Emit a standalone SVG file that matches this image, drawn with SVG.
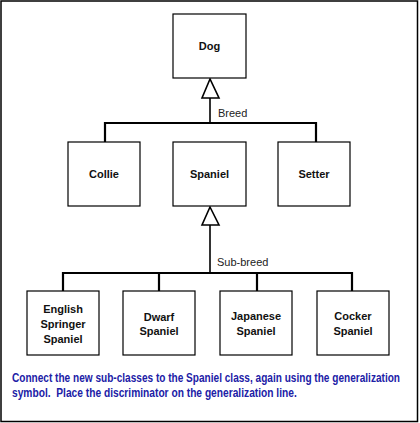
<svg xmlns="http://www.w3.org/2000/svg" width="420" height="423" viewBox="0 0 420 423">
<style>
.box{fill:#fff;stroke:#000;stroke-width:1.2}
.lbl{font-family:"Liberation Sans",Arial,sans-serif;font-weight:bold;font-size:11px;fill:#111;text-anchor:middle}
.disc{font-family:"Liberation Sans",Arial,sans-serif;font-size:11px;fill:#222}
.conn{fill:none;stroke:#000;stroke-width:2.2}
.stem{fill:none;stroke:#000;stroke-width:1.6}
.tri{fill:#fff;stroke:#000;stroke-width:1.6;stroke-linejoin:miter}
.cap{font-family:"Liberation Sans",Arial,sans-serif;font-weight:bold;font-size:12px;fill:#2020a6;white-space:pre}
</style>
<rect x="1" y="1" width="416.5" height="420.5" fill="#fff" stroke="#000" stroke-width="1.5"/>
<g id="connectors">
<path class="stem" d="M210 98 V123"/>
<path class="conn" d="M105 142 V123 H316 V142"/>
<path class="stem" d="M210 225 V273"/>
<path class="conn" d="M63 291 V273 H352 V291 M159 273 V291 M257 273 V291"/>
<polygon class="tri" points="210,79 202,98 219,98"/>
<polygon class="tri" points="210,207 202,225 219,225"/>
<text class="disc" x="218" y="117">Breed</text>
<text class="disc" x="217" y="266">Sub-breed</text>
</g>
<g id="dog"><rect class="box" x="173" y="14" width="73" height="64"/><text class="lbl" x="209.5" y="50">Dog</text></g>
<g id="collie"><rect class="box" x="68" y="142" width="72" height="64"/><text class="lbl" x="104" y="178">Collie</text></g>
<g id="spaniel"><rect class="box" x="173" y="142" width="73" height="64"/><text class="lbl" x="209.5" y="178">Spaniel</text></g>
<g id="setter"><rect class="box" x="278" y="142" width="72" height="64"/><text class="lbl" x="314" y="178">Setter</text></g>
<g id="english"><rect class="box" x="27" y="291" width="72" height="64"/><text class="lbl" x="63" y="313">English</text><text class="lbl" x="63" y="328">Springer</text><text class="lbl" x="63" y="343">Spaniel</text></g>
<g id="dwarf"><rect class="box" x="123" y="291" width="72" height="64"/><text class="lbl" x="159" y="321">Dwarf</text><text class="lbl" x="159" y="335">Spaniel</text></g>
<g id="japanese"><rect class="box" x="220" y="291" width="72" height="64"/><text class="lbl" x="256" y="320">Japanese</text><text class="lbl" x="256" y="335">Spaniel</text></g>
<g id="cocker"><rect class="box" x="317" y="291" width="72" height="64"/><text class="lbl" x="353" y="320">Cocker</text><text class="lbl" x="353" y="335">Spaniel</text></g>
<text class="cap" transform="translate(12,382) scale(0.8,1)" x="0" y="0" textLength="485" lengthAdjust="spacingAndGlyphs">Connect the new sub-classes to the Spaniel class, again using the generalization</text>
<text class="cap" transform="translate(12,397) scale(0.8,1)" x="0" y="0" textLength="356" lengthAdjust="spacingAndGlyphs">symbol.  Place the discriminator on the generalization line.</text>
</svg>
